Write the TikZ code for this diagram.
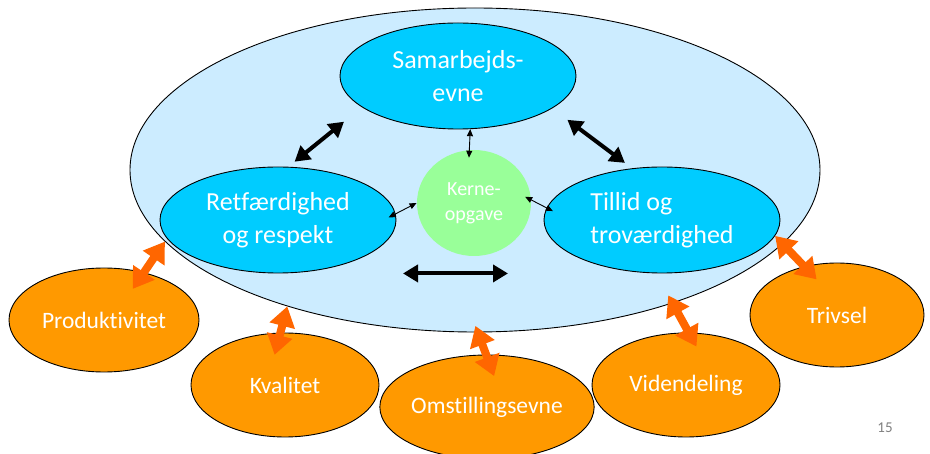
\documentclass[tikz,border=0pt]{standalone}
\usepackage{fontspec}
\setmainfont[Ligatures=NoCommon]{Carlito}
\usepackage{tikz}
\usetikzlibrary{arrows.meta}
\usetikzlibrary{shapes.geometric,positioning}

\definecolor{lightsky}{HTML}{CCECFF}
\definecolor{sky}{HTML}{00CCFF}
\definecolor{mint}{HTML}{99FF99}
\definecolor{amber}{HTML}{FF9900}
\definecolor{rust}{HTML}{FF6600}

\begin{document}
\begin{tikzpicture}[x=1pt, y=-1pt,
    oval/.style = {draw, ellipse, inner sep=0pt, line width=0.9pt, text=white, align=center},
    main/.style = {oval, fill=sky, minimum width=236pt, minimum height=106pt, font=\fontsize{26}{33}\selectfont},
    side/.style = {oval, fill=amber, minimum height=104pt, font=\fontsize{23.5}{28}\selectfont},
    fat/.style = {line width=4pt, {Triangle[length=15pt,width=17pt]}-{Triangle[length=15pt,width=17pt]}},
    slim/.style = {line width=0.9pt, {Triangle[length=7pt,width=6pt]}-{Triangle[length=7pt,width=6pt]}},
    link/.style = {rust, line width=8pt, {Triangle[length=20pt,width=25pt]}-{Triangle[length=20pt,width=25pt]}}]
    \useasboundingbox (0,0) rectangle (930,454);

    \node[oval, fill=lightsky, minimum width=690pt, minimum height=324pt] (big) at (475, 170) {};

    \node[main] (sam) at (458, 76) {Samarbejds-\\evne};
    \node[main] (ret) at (278, 220) {Retfærdighed\\og respekt};
    \node[main, align=left] (til) at (662, 220) {Tillid og\\troværdighed};
    \node[oval, draw=none, fill=mint, minimum width=114pt, minimum height=106pt,
          font=\fontsize{20}{25}\selectfont] (kern) at (474, 203) {Kerne-\\opgave};

    \node[side, minimum width=190pt] (prod) at (104, 320) {Produktivitet};
    \node[side, minimum width=188pt] (kval) at (285, 385) {Kvalitet};
    \node[side, minimum width=184pt] (omst) at (487, 407) {Omstillingsevne};
    \node[side, minimum width=188pt] (vid) at (686, 385) {Videndeling};
    \node[side, minimum width=174pt] (triv) at (837, 315) {Trivsel};

    \node[text=gray, font=\fontsize{15}{18}\selectfont] (page) at (885, 428) {15};

    \draw[fat, shorten <=8pt, shorten >=23pt] (ret.79) -- (sam.198);
    \draw[fat, shorten <=19pt, shorten >=9pt] (sam.-19) -- (til.120);
    \draw[fat, shorten <=125pt, shorten >=154pt] (ret.south) -- (til.south);

    \draw[slim, shorten >=-8pt] (sam.-77) -- (kern.95);
    \draw[slim, shorten >=-8pt] (kern.west) -- (ret.3);
    \draw[slim, shorten <=-7pt, shorten >=-7pt] (kern.3) -- (til.174);

    \draw[link, shorten >=-20pt] (big.193) -- (prod.50);
    \draw[link, shorten >=-23pt] (big.216) -- (kval.95);
    \draw[link, shorten <=-7pt, shorten >=-23pt] (big.-89) -- (omst.91);
    \draw[link, shorten <=-9pt, shorten >=-16pt] (big.-34) -- (vid.87);
    \draw[link, shorten >=-18pt] (til.-8) -- (triv.124);

\end{tikzpicture}
\end{document}
